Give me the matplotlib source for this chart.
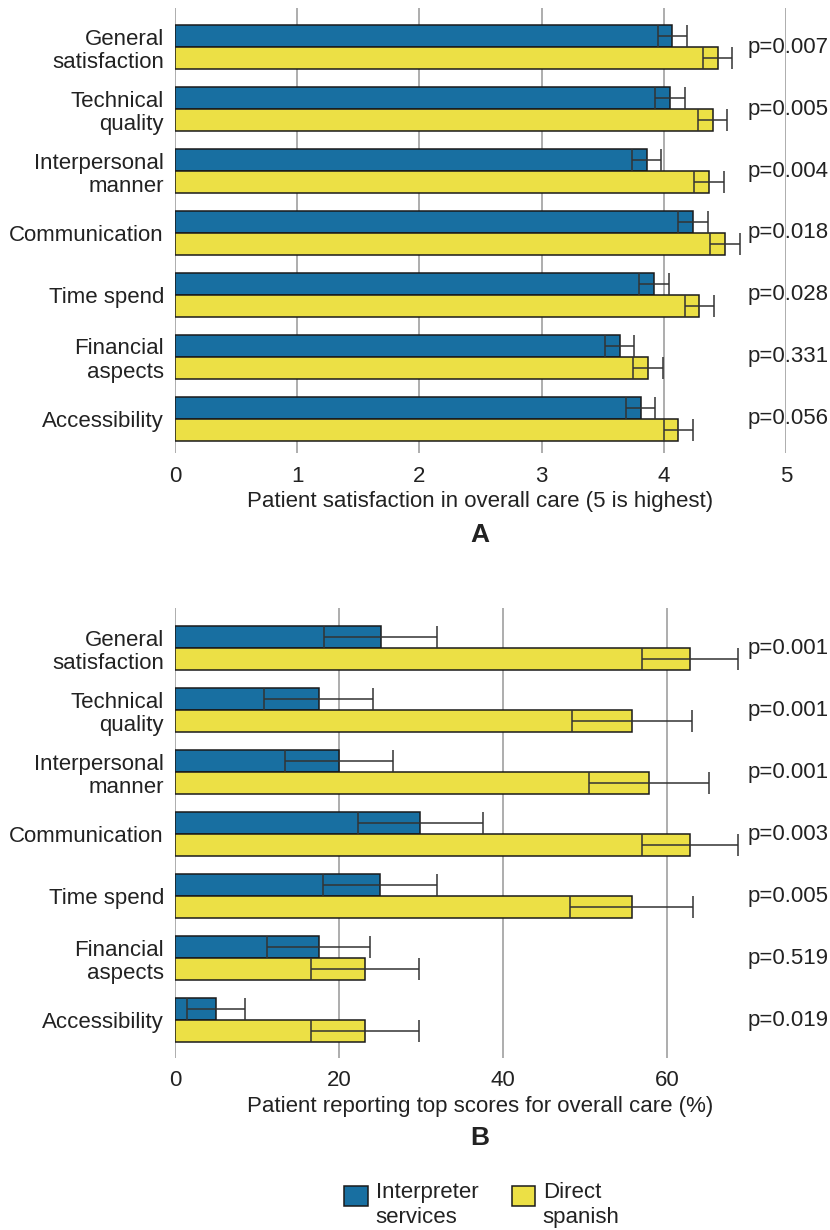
import matplotlib
matplotlib.use("Agg")
import matplotlib.pyplot as plt
from matplotlib.patches import Patch, Rectangle
from matplotlib.legend_handler import HandlerPatch

plt.rcParams['font.family'] = ['Liberation Sans', 'DejaVu Sans']

categories = ["General\nsatisfaction", "Technical\nquality", "Interpersonal\nmanner",
              "Communication", "Time spend", "Financial\naspects", "Accessibility"]

# panel A: mean satisfaction score (1-5) with error
score_interp = [4.07, 4.05, 3.86, 4.24, 3.92, 3.64, 3.81]
score_interp_err = [0.12, 0.12, 0.12, 0.12, 0.12, 0.12, 0.12]
score_direct = [4.44, 4.40, 4.37, 4.50, 4.29, 3.87, 4.12]
score_direct_err = [0.12, 0.12, 0.12, 0.12, 0.12, 0.12, 0.12]
pvals_a = ["p=0.007", "p=0.005", "p=0.004", "p=0.018", "p=0.028", "p=0.331", "p=0.056"]

# panel B: % reporting top scores with error
top_interp = [25.1, 17.5, 20.0, 29.9, 25.0, 17.5, 5.0]
top_interp_err = [6.9, 6.6, 6.6, 7.6, 6.9, 6.3, 3.5]
top_direct = [62.8, 55.7, 57.8, 62.8, 55.7, 23.2, 23.2]
top_direct_err = [5.9, 7.3, 7.3, 5.9, 7.5, 6.6, 6.6]
pvals_b = ["p=0.001", "p=0.001", "p=0.001", "p=0.003", "p=0.005", "p=0.519", "p=0.019"]

blue = "#186fa1"
yellow = "#ece045"
txt = "#222222"

fig = plt.figure(figsize=(8.3, 12.3), dpi=100)
axA = fig.add_axes([175/830, 1-453/1230, 611/830, 445/1230])
axB = fig.add_axes([175/830, 1-1058/1230, 611/830, 450/1230])

h = 0.355


def panel(ax, v1, e1, v2, e2, pv, xmax, ticks, xlabel, ylim):
    y = list(range(len(categories)))
    y1 = [i - h/2 for i in y]
    y2 = [i + h/2 for i in y]
    eb = dict(ecolor="#333333", elinewidth=1.1, capsize=8, capthick=1.1)
    ax.barh(y1, v1, height=h, color=blue, edgecolor="#1a1a1a", linewidth=1.1,
            xerr=e1, error_kw=eb, zorder=3)
    ax.barh(y2, v2, height=h, color=yellow, edgecolor="#1a1a1a", linewidth=1.1,
            xerr=e2, error_kw=eb, zorder=3)
    ax.set_xlim(0, xmax)
    ax.set_ylim(*ylim)
    ax.set_xticks(ticks)
    ax.set_yticks(y)
    ax.set_yticklabels(categories, ha="right", multialignment="right", linespacing=1.15)
    ax.tick_params(axis="both", length=0, labelsize=16, labelcolor=txt)
    ax.tick_params(axis="x", pad=9)
    ax.tick_params(axis="y", pad=8)
    ax.grid(True, axis="x", color="#a0a0a0", linewidth=1.2, zorder=0)
    ax.set_axisbelow(True)
    for s in ax.spines.values():
        s.set_visible(False)
    ax.set_xlabel(xlabel, fontsize=16, color=txt, labelpad=3)
    for i, p in zip(y, pv):
        ax.text(1.003, i, p, transform=ax.get_yaxis_transform(), ha="center",
                va="center", fontsize=16, color=txt, clip_on=False)


panel(axA, score_interp, score_interp_err, score_direct, score_direct_err, pvals_a,
      5, [0, 1, 2, 3, 4, 5], "Patient satisfaction in overall care (5 is highest)",
      (6.55, -0.63))
panel(axB, top_interp, top_interp_err, top_direct, top_direct_err, pvals_b,
      74.5, [0, 20, 40, 60], "Patient reporting top scores for overall care (%)",
      (6.61, -0.645))

fig.text(480/830, 1-535/1230, "A", fontsize=19, fontweight="bold", ha="center",
         va="center", color=txt)
fig.text(480/830, 1-1138/1230, "B", fontsize=19, fontweight="bold", ha="center",
         va="center", color=txt)


# legend swatch sits level with the first line of its label
def raised_box(legend, orig_handle, xdescent, ydescent, width, height, fontsize):
    return Rectangle((-xdescent, -ydescent + 7), width, height)


handles = [Patch(facecolor=blue, edgecolor="#1a1a1a", linewidth=1.1),
           Patch(facecolor=yellow, edgecolor="#1a1a1a", linewidth=1.1)]
fig.legend(handles, ["Interpreter\nservices", "Direct\nspanish"], ncol=2,
           loc="center", bbox_to_anchor=(482/830, 1-1205/1230), frameon=False,
           fontsize=16, handlelength=1.05, handleheight=1.0, handletextpad=0.35,
           columnspacing=1.5, labelcolor=txt,
           handler_map={Patch: HandlerPatch(patch_func=raised_box)})

fig.savefig("out.png", dpi=100)
